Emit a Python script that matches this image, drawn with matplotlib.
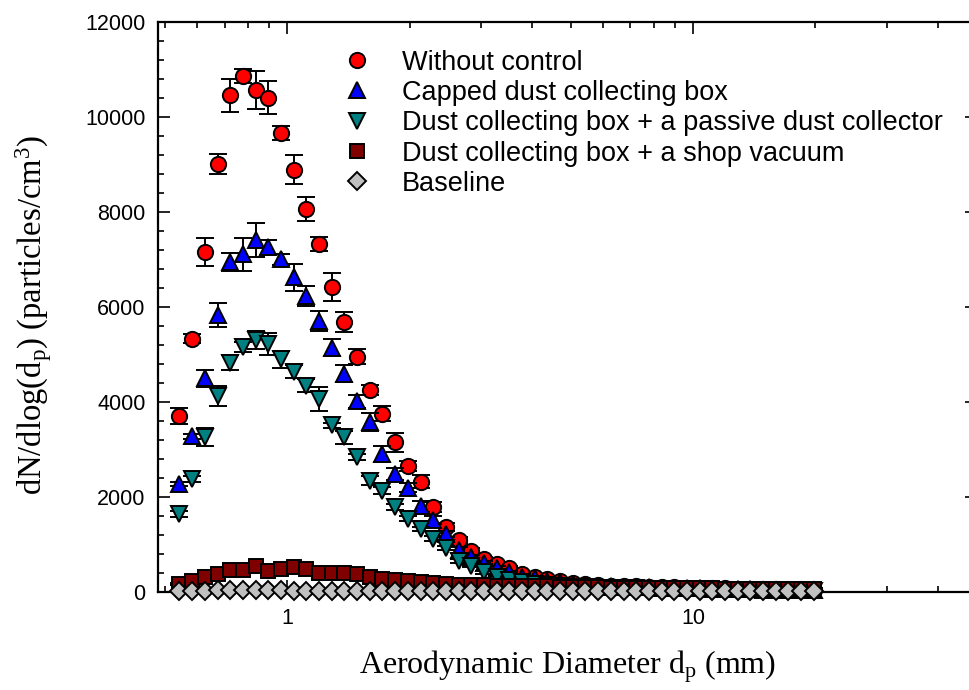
import matplotlib
matplotlib.use("Agg")
import matplotlib.pyplot as plt
from matplotlib.ticker import LogLocator, MultipleLocator, NullFormatter
import numpy as np

# APS channel midpoints (um)
dp = [0.542, 0.583, 0.626, 0.673, 0.723, 0.777, 0.835, 0.898, 0.965, 1.037,
      1.114, 1.197, 1.286, 1.382, 1.486, 1.596, 1.715, 1.843, 1.981, 2.129,
      2.288, 2.458, 2.642, 2.839, 3.051, 3.278, 3.523, 3.786, 4.068, 4.371,
      4.698, 5.048, 5.425, 5.829, 6.264, 6.732, 7.234, 7.774, 8.354, 8.977,
      9.647, 10.37, 11.14, 11.97, 12.86, 13.82, 14.86, 15.96, 17.15, 18.43,
      19.81]

no_control = [3700, 5330, 7150, 9000, 10450, 10850, 10560, 10400, 9660, 8880,
              8050, 7320, 6420, 5670, 4950, 4250, 3750, 3150, 2650, 2320,
              1780, 1360, 1090, 865, 690, 584, 500, 373, 302, 268,
              217, 175, 162, 145, 130, 120, 110, 100, 95, 90,
              85, 80, 75, 70, 65, 60, 55, 50, 45, 40,
              35]
no_control_err = [170, 100, 295, 205, 350, 150, 395, 350, 150, 305,
                  255, 150, 300, 210, 160, 110, 150, 200, 110, 130,
                  100, 80, 70, 60, 50, 45, 40, 35, 30, 30,
                  25, 25, 20, 20, 20, 15, 15, 15, 15, 15,
                  10, 10, 10, 10, 10, 10, 10, 10, 10, 10,
                  10]

capped = [2270, 3270, 4490, 5820, 6945, 7100, 7400, 7250, 7000, 6620,
          6220, 5700, 5140, 4590, 4010, 3570, 2900, 2480, 2190, 1800,
          1510, 1217, 880, 723, 597, 500, 407, 316, 289, 232,
          196, 170, 150, 130, 115, 105, 95, 90, 85, 80,
          75, 70, 65, 60, 55, 50, 45, 40, 35, 30,
          28]
capped_err = [50, 60, 170, 255, 190, 350, 360, 160, 115, 280,
              210, 210, 175, 175, 140, 190, 175, 120, 100, 120,
              90, 70, 60, 50, 45, 40, 35, 30, 25, 25,
              20, 20, 20, 15, 15, 15, 15, 10, 10, 10,
              10, 10, 10, 10, 10, 10, 10, 10, 10, 10,
              10]

passive = [1640, 2380, 3250, 4130, 4820, 5150, 5290, 5220, 4890, 4630,
           4340, 4060, 3500, 3250, 2830, 2340, 2130, 1780, 1540, 1320,
           1120, 920, 645, 548, 407, 302, 240, 200, 165, 140,
           120, 105, 95, 85, 80, 75, 70, 65, 60, 55,
           50, 48, 45, 42, 40, 38, 35, 32, 30, 28,
           25]
passive_err = [60, 60, 190, 210, 160, 100, 190, 230, 170, 140,
               140, 250, 60, 130, 60, 100, 70, 60, 60, 50,
               50, 45, 40, 35, 30, 25, 25, 20, 20, 20,
               15, 15, 15, 10, 10, 10, 10, 10, 10, 10,
               10, 10, 10, 10, 10, 10, 10, 10, 10, 10,
               10]

vacuum = [160, 220, 300, 370, 460, 460, 550, 430, 480, 510,
          478, 400, 390, 390, 373, 302, 268, 240, 220, 196,
          175, 162, 150, 140, 135, 130, 125, 120, 115, 110,
          105, 100, 95, 90, 88, 85, 82, 80, 78, 75,
          72, 70, 68, 65, 62, 60, 58, 55, 52, 50,
          48]
vacuum_err = [20] * len(dp)

baseline = [20, 22, 25, 27, 28, 30, 30, 28, 27, 25,
            25, 24, 23, 22, 22, 21, 20, 20, 20, 19,
            19, 18, 18, 18, 17, 17, 17, 16, 16, 16,
            15, 15, 15, 15, 14, 14, 14, 14, 13, 13,
            13, 13, 12, 12, 12, 12, 12, 11, 11, 11,
            10]
baseline_err = [5] * len(dp)

labels = ["Without control", "Capped dust collecting box",
          "Dust collecting box + a passive dust collector",
          "Dust collecting box + a shop vacuum", "Baseline"]

series = [
    (no_control, no_control_err, "o", "#FF0000", 11),
    (capped, capped_err, "^", "#0000FF", 12),
    (passive, passive_err, "v", "#008080", 12),
    (vacuum, vacuum_err, "s", "#800000", 10),
    (baseline, baseline_err, "D", "#C0C0C0", 9.4),
]

W, H = 969, 690
fig = plt.figure(figsize=(W / 100, H / 100), dpi=100)
ax = fig.add_axes([158 / W, 1 - 591.7 / H, (977 - 158) / W, (591.7 - 21.7) / H])

handles = []
for i, (vals, err, m, c, ms) in enumerate(series):
    z = 3 + 2 * i
    ax.errorbar(dp, vals, yerr=err, fmt="none", ecolor="k", elinewidth=1.4,
                capsize=6.5, capthick=1.4, zorder=z)
    ln, = ax.plot(dp, vals, linestyle="none", marker=m, ms=ms, mfc=c,
                  mec="k", mew=1.4, zorder=z + 1, clip_on=False)
    handles.append(ln)

ax.set_xscale("log")
ax.set_xlim(0.48, 50)
ax.set_ylim(0, 12000)
ax.set_xticks([1, 10], ["1", "10"])
ax.xaxis.set_minor_locator(LogLocator(base=10, subs=np.arange(2, 10)))
ax.xaxis.set_minor_formatter(NullFormatter())
ax.yaxis.set_major_locator(MultipleLocator(2000))
ax.yaxis.set_minor_locator(MultipleLocator(400))

for s in ax.spines.values():
    s.set_linewidth(1.6)
ax.tick_params(which="both", direction="in", top=True, right=True, width=1.2)
ax.tick_params(which="major", length=8.6)
ax.tick_params(which="minor", length=4.3)
ax.tick_params(axis="x", pad=12)
ax.tick_params(axis="y", pad=9)
for t in ax.get_xticklabels() + ax.get_yticklabels():
    t.set_fontfamily("Liberation Sans")
    t.set_fontsize(15.5)

ax.set_xlabel(r"Aerodynamic Diameter d$\mathregular{_p}$ (mm)",
              fontfamily="Liberation Serif", fontsize=23)
ax.set_ylabel(r"dN/dlog(d$\mathregular{_p}$) (particles/cm$\mathregular{^3}$)",
              fontfamily="Liberation Serif", fontsize=23.5)
ax.xaxis.set_label_coords(0.5, -0.132)
ax.xaxis.label.set_va("center")
ax.yaxis.set_label_coords(-0.152, 0.486)
ax.yaxis.label.set_va("center")

ax.legend(handles, labels, loc="upper left", bbox_to_anchor=(0.228, 0.951),
          frameon=False, prop={"family": "Liberation Sans", "size": 19.5},
          borderpad=0, borderaxespad=0, handlelength=0.87, handletextpad=1.25,
          labelspacing=0.16)

fig.savefig("out.png", dpi=100)
